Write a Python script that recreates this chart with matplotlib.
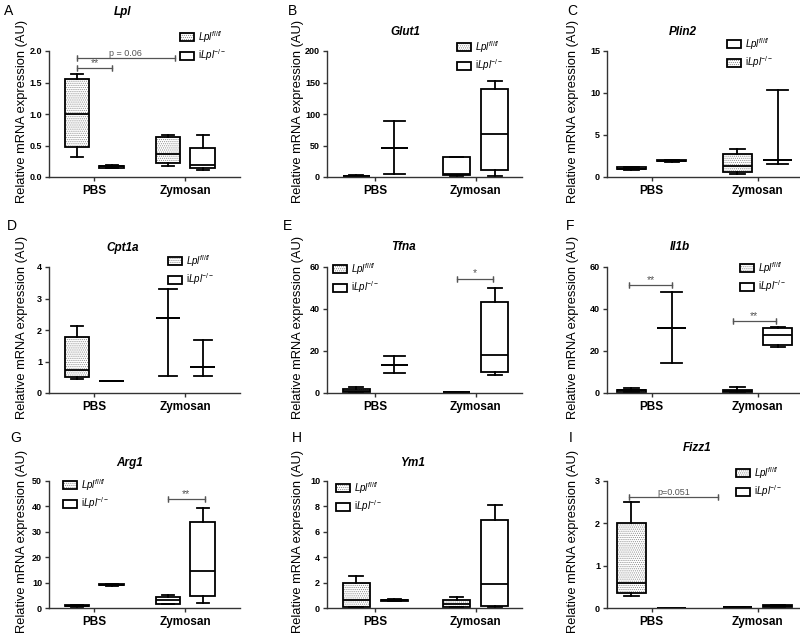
import matplotlib
matplotlib.use('Agg')
import matplotlib.pyplot as plt
from matplotlib.patches import Patch, PathPatch

plt.rcParams['font.family'] = ['Liberation Sans', 'DejaVu Sans']
plt.rcParams['mathtext.fontset'] = 'custom'
plt.rcParams['mathtext.rm'] = 'Liberation Sans'
plt.rcParams['mathtext.it'] = 'Liberation Sans:italic'
plt.rcParams['mathtext.bf'] = 'Liberation Sans:bold'
plt.rcParams['hatch.linewidth'] = 0.5

groups = ['PBS', 'Zymosan']
lbl_ctrl = r'$\mathit{Lpl}^{\mathit{fl/fl}}$'
lbl_ko = r'i$\mathit{Lpl}^{\mathit{-/-}}$'

# box stats per gene: (whislo, q1, med, q3, whishi)
# order: PBS Lpl fl/fl, PBS iLpl-/-, Zymosan Lpl fl/fl, Zymosan iLpl-/-
lpl = [(0.32, 0.48, 1.0, 1.55, 1.63), (0.14, 0.15, 0.17, 0.18, 0.19),
       (0.18, 0.22, 0.36, 0.63, 0.67), (0.11, 0.15, 0.19, 0.46, 0.67)]
glut1 = [(0.5, 1.0, 1.5, 2.0, 2.5), (5, 46, 46, 46, 89),
         (1.0, 2.5, 4.0, 31.5, 32.5), (2, 11.5, 69, 139, 153)]
plin2 = [(0.85, 0.9, 1.0, 1.15, 1.25), (1.8, 1.85, 1.95, 2.0, 2.05),
         (0.36, 0.63, 1.3, 2.77, 3.36), (1.54, 2.05, 2.05, 2.05, 10.35)]
cpt1a = [(0.46, 0.5, 0.72, 1.77, 2.13), (0.39, 0.39, 0.39, 0.39, 0.39),
         (0.55, 2.37, 2.37, 2.37, 3.29), (0.55, 0.81, 0.81, 0.81, 1.68)]
tfna = [(0.2, 0.3, 1.1, 1.9, 3.0), (9.5, 13.4, 13.4, 13.4, 17.4),
        (0.2, 0.3, 0.4, 0.5, 0.6), (8.8, 9.8, 18.2, 43.4, 50)]
il1b = [(0.3, 0.5, 1.2, 1.6, 2.4), (14.2, 31.1, 31.1, 31.1, 47.9),
        (0.2, 0.3, 1.0, 1.6, 2.7), (22.1, 22.9, 27.5, 30.8, 31.3)]
arg1 = [(0.5, 0.6, 0.9, 1.1, 1.3), (8.8, 8.9, 9.1, 9.3, 9.4),
        (1.4, 1.6, 3.0, 4.2, 5.3), (2.1, 4.6, 14.5, 34, 39.2)]
ym1 = [(0.05, 0.1, 0.6, 2.0, 2.5), (0.55, 0.58, 0.62, 0.66, 0.7),
       (0.05, 0.08, 0.35, 0.6, 0.9), (0.05, 0.13, 1.9, 6.9, 8.1)]
fizz1 = [(0.28, 0.36, 0.59, 2.0, 2.51), (0.0, 0.002, 0.005, 0.008, 0.01),
         (0.01, 0.015, 0.02, 0.025, 0.03), (0.02, 0.03, 0.05, 0.06, 0.07)]

yticks = {
    'Lpl': [0, 0.5, 1.0, 1.5, 2.0], 'Glut1': [0, 50, 100, 150, 200],
    'Plin2': [0, 5, 10, 15], 'Cpt1a': [0, 1, 2, 3, 4],
    'Tfna': [0, 20, 40, 60], 'Il1b': [0, 20, 40, 60],
    'Arg1': [0, 10, 20, 30, 40, 50], 'Ym1': [0, 2, 4, 6, 8, 10],
    'Fizz1': [0, 1, 2, 3],
}

# significance brackets: (x from, x to, y, text)
brackets = {
    'Lpl': [(-0.19, 0.19, 1.73, '**'), (-0.19, 0.88, 1.89, 'p = 0.06')],
    'Tfna': [(0.81, 1.17, 54.5, '*')],
    'Il1b': [(-0.21, 0.19, 51.3, '**'), (0.77, 1.17, 34.4, '**')],
    'Arg1': [(0.81, 1.21, 43, '**')],
    'Fizz1': [(-0.21, 0.63, 2.62, 'p=0.051')],
}

panels = [
    ('A', 'Lpl', lpl), ('B', 'Glut1', glut1), ('C', 'Plin2', plin2),
    ('D', 'Cpt1a', cpt1a), ('E', 'Tfna', tfna), ('F', 'Il1b', il1b),
    ('G', 'Arg1', arg1), ('H', 'Ym1', ym1), ('I', 'Fizz1', fizz1),
]

W, H = 800, 639
fig = plt.figure(figsize=(8, 6.39), dpi=100)

cols = [(49, 240), (327, 522), (607, 800)]
rows = [(51, 177), (267, 393), (481, 608)]
xlims = [(-0.5, 1.6), (-0.48, 1.46), (-0.42, 1.4)]
letter_pos = [(4, 11), (288, 11), (567, 11), (7, 226), (283, 226), (566, 226),
              (10, 438), (292, 438), (569, 438)]
title_pos = [(123, 12), (405, 32), (683, 32), (123, 248), (403, 247), (680, 247),
             (130, 463), (412, 463), (697, 448)]
ylab_x = [22, 298, 573]
legend_pos = [(180, 29), (457, 39), (727, 36), (168, 253), (333, 261), (740, 260),
              (63, 477), (336, 480), (736, 465)]
# which boxes get the dotted fill, and the legend order of fills
hatched_boxes = {'B': [0], 'G': [0]}
legend_swap = ['C']

box_pos = [-0.19, 0.19, 0.81, 1.19]
bw = 0.27
DOT = '........'
lw = 1.3


def hatched_handle():
    return (Patch(facecolor='white', edgecolor='#8a8a8a', hatch=DOT, lw=0),
            Patch(facecolor='none', edgecolor='black', lw=lw))


for k, (letter, gene, data) in enumerate(panels):
    r, c = divmod(k, 3)
    l, rr = cols[c]
    t, b = rows[r]
    ax = fig.add_axes([l / W, 1 - b / H, (rr - l) / W, (b - t) / H])

    stats = [dict(whislo=s[0], q1=s[1], med=s[2], q3=s[3], whishi=s[4]) for s in data]
    capw = [bw * 0.75 if s[1] == s[3] else bw * 0.5 for s in data]
    res = ax.bxp(stats, positions=box_pos, widths=bw, capwidths=capw,
                 showfliers=False, patch_artist=True,
                 boxprops=dict(facecolor='white', edgecolor='black', lw=lw),
                 medianprops=dict(color='black', lw=lw),
                 whiskerprops=dict(color='black', lw=lw),
                 capprops=dict(color='black', lw=lw))
    hb = hatched_boxes.get(letter, [0, 2])
    for i, box in enumerate(res['boxes']):
        if i in hb:
            box.set_facecolor('none')
            ax.add_patch(PathPatch(box.get_path(), facecolor='white',
                                   edgecolor='#8a8a8a', hatch=DOT, lw=0, zorder=1.5))

    ax.set_xlim(*xlims[c])
    yt = yticks[gene]
    ax.set_ylim(0, yt[-1])
    ax.set_yticks(yt)
    if gene == 'Lpl':
        ax.set_yticklabels(['%.1f' % v for v in yt])
    ax.set_xticks([0, 1])
    ax.set_xticklabels(groups, fontsize=8.5, fontweight='bold')
    for tl in ax.get_yticklabels():
        tl.set_fontweight('bold')
        tl.set_fontsize(6.5)
    ax.tick_params(axis='both', direction='out', length=3, width=1, color='#333', pad=2)
    ax.tick_params(axis='x', pad=3)
    for s in ['top', 'right']:
        ax.spines[s].set_visible(False)
    for s in ['left', 'bottom']:
        ax.spines[s].set_linewidth(1.0)
        ax.spines[s].set_color('#333')

    for x1, x2, y, txt in brackets.get(gene, []):
        ax.plot([x1, x2], [y, y], color='#555', lw=0.9, clip_on=False)
        for xe in (x1, x2):
            ax.plot([xe, xe], [y, y], marker='|', ms=4, mew=0.9, color='#555', clip_on=False)
        ax.text((x1 + x2) / 2, y, txt, ha='center', va='bottom',
                fontsize=6.5 if 'p' in txt else 7.5, color='#555', clip_on=False)

    if letter in legend_swap:
        handles = [Patch(facecolor='white', edgecolor='black', lw=lw), hatched_handle()]
    else:
        handles = [hatched_handle(), Patch(facecolor='white', edgecolor='black', lw=lw)]
    lx, ly = legend_pos[k]
    ax.legend(handles, [lbl_ctrl, lbl_ko], loc='upper left',
              bbox_to_anchor=(lx / W, 1 - ly / H), bbox_transform=fig.transFigure,
              frameon=False, fontsize=7, handlelength=1.4, handleheight=0.9,
              handletextpad=0.5, labelspacing=0.25, borderpad=0, borderaxespad=0)

    fig.text(letter_pos[k][0] / W, 1 - letter_pos[k][1] / H, letter,
             fontsize=10, ha='left', va='center')
    fig.text(title_pos[k][0] / W, 1 - title_pos[k][1] / H, gene, fontsize=8.5,
             fontweight='bold', fontstyle='italic', ha='center', va='center')
    fig.text(ylab_x[c] / W, 1 - ((t + b) / 2 - 3) / H, 'Relative mRNA expression (AU)',
             rotation=90, fontsize=9.3, ha='center', va='center')

fig.savefig('out.png', dpi=100)
